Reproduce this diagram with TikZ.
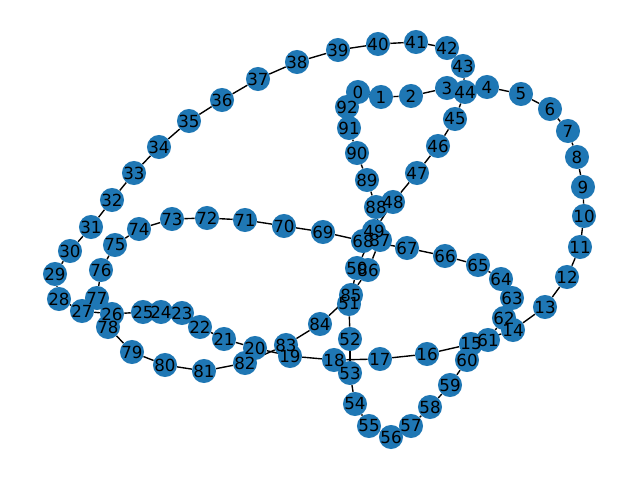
\documentclass[tikz,border=0pt]{standalone}
\usepackage{fontspec}
\setmainfont{DejaVu Sans}
\usetikzlibrary{backgrounds}
\definecolor{nxblue}{HTML}{1F77B4}
\tikzset{
  vtx/.style={fill=nxblue,circle,inner sep=0pt,minimum size=17.3pt},
  lbl/.style={inner sep=0pt,font=\fontsize{12}{14}\selectfont},
  link/.style={line width=1pt,black}
}
\begin{document}
\begin{tikzpicture}[x=0.72pt,y=-0.72pt]
     \useasboundingbox (0,0) rectangle (640,480);

     %Upper loop
     \node[vtx] (n0)  at (358,92)  {};
     \node[vtx] (n1)  at (381,97)  {};
     \node[vtx] (n2)  at (411,96)  {};
     \node[vtx] (n3)  at (447,88)  {};
     \node[vtx] (n4)  at (487,87)  {};
     \node[vtx] (n5)  at (521,94)  {};
     \node[vtx] (n6)  at (550,109) {};
     \node[vtx] (n7)  at (568,131) {};
     \node[vtx] (n8)  at (577,157) {};
     \node[vtx] (n9)  at (583,187) {};
     \node[vtx] (n10) at (584,216) {};
     \node[vtx] (n11) at (580,247) {};
     \node[vtx] (n12) at (567,277) {};
     \node[vtx] (n13) at (545,307) {};
     \node[vtx] (n14) at (513,330) {};
     \node[vtx] (n15) at (471,344) {};
     \node[vtx] (n16) at (427,354) {};
     \node[vtx] (n17) at (380,359) {};
     \node[vtx] (n18) at (334,360) {};
     \node[vtx] (n19) at (290,356) {};
     \node[vtx] (n20) at (255,348) {};
     \node[vtx] (n21) at (224,339) {};
     \node[vtx] (n22) at (200,327) {};
     \node[vtx] (n23) at (182,313) {};
     \node[vtx] (n24) at (161,312) {};
     \node[vtx] (n25) at (143,312) {};
     \node[vtx] (n26) at (112,314) {};
     \node[vtx] (n27) at (82,311)  {};
     \node[vtx] (n28) at (59,299)  {};
     \node[vtx] (n29) at (55,274)  {};
     \node[vtx] (n30) at (70,251)  {};
     \node[vtx] (n31) at (91,227)  {};
     \node[vtx] (n32) at (112,200) {};
     \node[vtx] (n33) at (134,173) {};
     \node[vtx] (n34) at (159,147) {};
     \node[vtx] (n35) at (189,121) {};
     \node[vtx] (n36) at (222,100) {};
     \node[vtx] (n37) at (258,79)  {};
     \node[vtx] (n38) at (297,62)  {};
     \node[vtx] (n39) at (338,50)  {};
     \node[vtx] (n40) at (378,44)  {};
     \node[vtx] (n41) at (416,42)  {};
     \node[vtx] (n42) at (447,48)  {};
     \node[vtx] (n43) at (463,66)  {};
     \node[vtx] (n44) at (465,92)  {};
     \node[vtx] (n45) at (455,119) {};
     \node[vtx] (n46) at (438,146) {};
     \node[vtx] (n47) at (417,173) {};
     \node[vtx] (n48) at (393,202) {};

     %Lower loop
     \node[vtx] (n49) at (374,231) {};
     \node[vtx] (n50) at (357,268) {};
     \node[vtx] (n51) at (349,304) {};
     \node[vtx] (n52) at (350,339) {};
     \node[vtx] (n53) at (350,373) {};
     \node[vtx] (n54) at (355,404) {};
     \node[vtx] (n55) at (369,426) {};
     \node[vtx] (n56) at (391,437) {};
     \node[vtx] (n57) at (411,426) {};
     \node[vtx] (n58) at (430,407) {};
     \node[vtx] (n59) at (450,385) {};
     \node[vtx] (n60) at (467,360) {};
     \node[vtx] (n61) at (488,340) {};
     \node[vtx] (n62) at (504,318) {};
     \node[vtx] (n63) at (512,298) {};
     \node[vtx] (n64) at (501,279) {};
     \node[vtx] (n65) at (478,265) {};
     \node[vtx] (n66) at (445,256) {};
     \node[vtx] (n67) at (407,248) {};
     \node[vtx] (n68) at (363,241) {};
     \node[vtx] (n69) at (323,232) {};
     \node[vtx] (n70) at (284,226) {};
     \node[vtx] (n71) at (245,220) {};
     \node[vtx] (n72) at (207,218) {};
     \node[vtx] (n73) at (172,219) {};
     \node[vtx] (n74) at (139,229) {};
     \node[vtx] (n75) at (115,245) {};
     \node[vtx] (n76) at (101,270) {};
     \node[vtx] (n77) at (97,298)  {};
     \node[vtx] (n78) at (108,327) {};
     \node[vtx] (n79) at (132,352) {};
     \node[vtx] (n80) at (165,365) {};
     \node[vtx] (n81) at (204,371) {};
     \node[vtx] (n82) at (245,363) {};
     \node[vtx] (n83) at (286,345) {};
     \node[vtx] (n84) at (320,324) {};
     \node[vtx] (n85) at (351,295) {};
     \node[vtx] (n86) at (368,270) {};
     \node[vtx] (n87) at (380,240) {};
     \node[vtx] (n88) at (376,207) {};
     \node[vtx] (n89) at (367,180) {};
     \node[vtx] (n90) at (357,153) {};
     \node[vtx] (n91) at (349,128) {};
     \node[vtx] (n92) at (347,107) {};

     %Edges
     \begin{scope}[on background layer]
       \foreach \i [evaluate=\i as \j using int(\i+1)] in {0,...,91}
         \draw[link] (n\i) -- (n\j);
       \draw[link] (n92) -- (n0);
     \end{scope}

     %Labels
     \foreach \i in {0,...,92}
       \node[lbl] at (n\i) {\i};

\end{tikzpicture}
\end{document}
